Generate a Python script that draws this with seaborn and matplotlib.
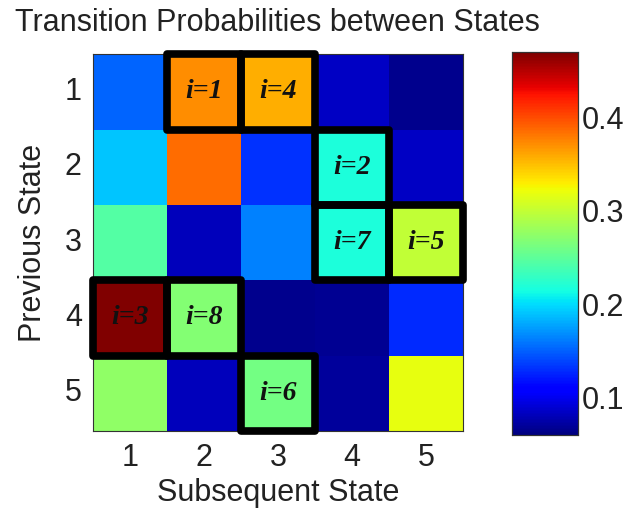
import matplotlib
matplotlib.use("Agg")
import matplotlib.pyplot as plt
from matplotlib.patches import Rectangle
import numpy as np
import pandas as pd
import seaborn as sns

# transition probabilities (rows = previous state, cols = subsequent state)
states = [1, 2, 3, 4, 5]
row1 = [0.152, 0.372, 0.357, 0.085, 0.065]
row2 = [0.191, 0.386, 0.132, 0.218, 0.085]
row3 = [0.245, 0.082, 0.163, 0.218, 0.300]
row4 = [0.470, 0.269, 0.065, 0.068, 0.128]
row5 = [0.275, 0.082, 0.261, 0.071, 0.318]

# highlighted cells (1-based state numbers) and their labels
box_rows = [1, 2, 4, 1, 3, 5, 3, 4]
box_cols = [2, 4, 1, 3, 5, 3, 4, 2]
box_labels = ["i=1", "i=2", "i=3", "i=4", "i=5", "i=6", "i=7", "i=8"]

cbar_ticks = [0.1, 0.2, 0.3, 0.4]

df = pd.DataFrame([row1, row2, row3, row4, row5], index=states, columns=states)

sns.set_style("white")
plt.rcParams["font.family"] = ["Liberation Sans", "DejaVu Sans"]

fig = plt.figure(figsize=(6.28, 5.16), dpi=100)
ax = fig.add_axes([0.148, 0.165, 0.589, 0.730])
cax = fig.add_axes([0.815, 0.157, 0.105, 0.742])

sns.heatmap(df, ax=ax, cbar_ax=cax, cmap="jet", vmin=0.06, vmax=0.47,
            square=False, cbar_kws={"ticks": cbar_ticks})

# recuadros y etiquetas
for r, c, lab in zip(box_rows, box_cols, box_labels):
    ax.add_patch(Rectangle((c - 1, r - 1), 1, 1, fill=False, edgecolor="black",
                           linewidth=5.5, joinstyle="round", clip_on=False, zorder=5))
    ax.text(c - 0.5, r - 0.5, lab, ha="center", va="center", fontsize=20,
            family=["Liberation Serif", "DejaVu Serif"], style="italic",
            weight="bold", color="#111111", zorder=6)

for s in ax.spines.values():
    s.set_visible(True)
    s.set_linewidth(0.8)
    s.set_color("#333333")

ax.set_xticks(np.arange(5) + 0.5)
ax.set_yticks(np.arange(5) + 0.5)
ax.set_xticklabels(states, rotation=0)
ax.set_yticklabels(states, rotation=0)
ax.tick_params(direction="in", top=True, right=True, length=4, width=0.8,
               labelsize=22, pad=9, colors="#222222")
ax.tick_params(axis="y", pad=8)

ax.set_xlabel("Subsequent State", fontsize=22, labelpad=3, color="#222222")
ax.set_ylabel("Previous State", fontsize=22, labelpad=12, color="#222222")
ax.set_title("Transition Probabilities between States", fontsize=22, pad=17,
             color="#222222")

cax.tick_params(direction="in", left=True, right=True, length=4, width=0.8,
                labelsize=22, pad=3, colors="#222222")
for s in cax.spines.values():
    s.set_visible(True)
    s.set_linewidth(0.8)
    s.set_color("#333333")

fig.savefig("out.png", dpi=100)
